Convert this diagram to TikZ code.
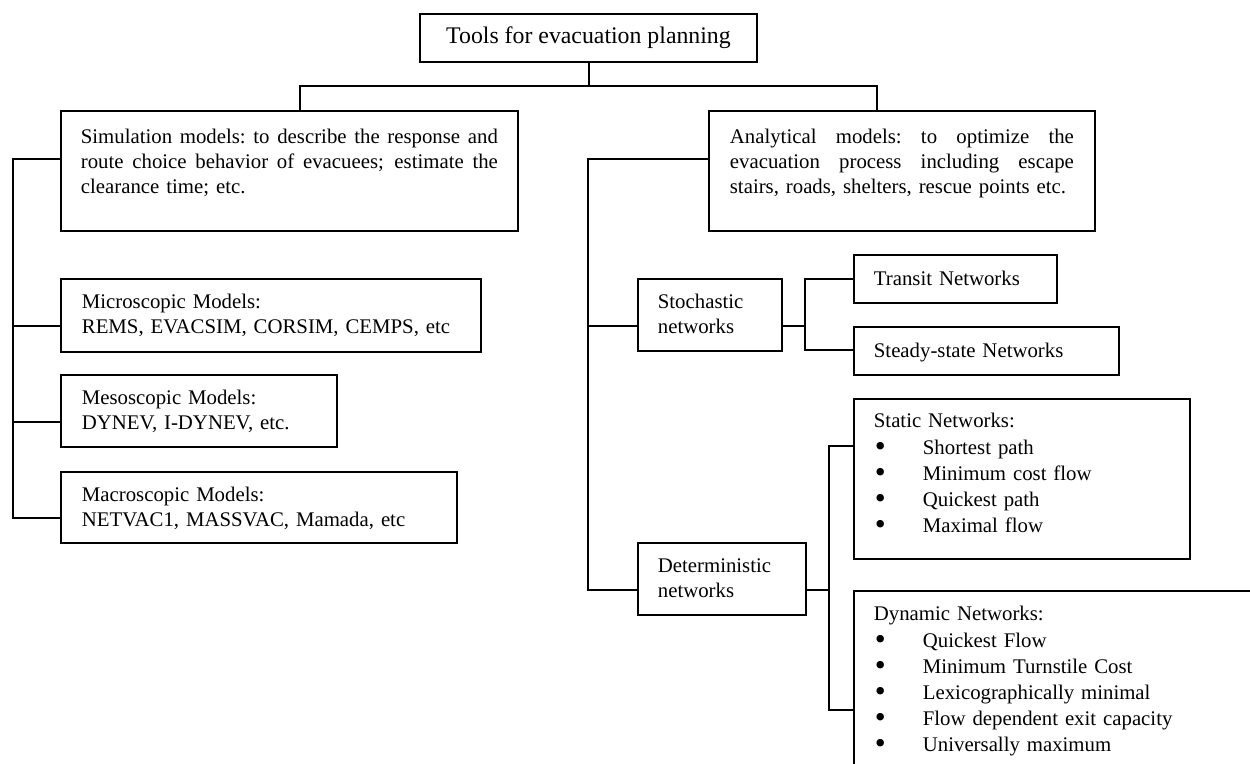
\documentclass[tikz,border=0pt]{standalone}
\usepackage{fontspec}
\usepackage{graphicx}
\setmainfont{Liberation Serif}
\usetikzlibrary{calc}
\newcommand\jline[2]{\leavevmode\hbox to #1{\spaceskip=0.25em plus 1fil\relax\xspaceskip=\spaceskip #2}}
\newcommand\bitem[1]{\makebox[24.5pt][l]{\hspace{0.5pt}\smash{\raisebox{-0.2ex}{\scalebox{1.5}{\textbullet}}}}#1}
\begin{document}
\begin{tikzpicture}[x=0.5pt,y=-0.5pt,
  line width=0.9pt,
  box/.style={draw, line width=0.9pt, anchor=north west, inner ysep=0pt, inner xsep=10pt,
    align=left, font=\fontsize{10.4}{12.5}\selectfont},
  listbox/.style={box, font=\fontsize{10.4}{13.1}\selectfont},
  titlebox/.style={draw, line width=0.9pt, inner sep=0pt, minimum width=168.5pt, minimum height=24pt,
    font=\fontsize{11.9}{14}\selectfont}]
\useasboundingbox (0,0) rectangle (1250,764);
\clip (0,0) rectangle (1250,764);

% nodes
\node[titlebox] (title) at (588.5,38) {Tools for evacuation planning};

\node[box, text width=208.5pt, text height=16.5pt, text depth=43.5pt] (sim) at (60,110)
  {\jline{208.5pt}{Simulation models: to describe the response and}\\
   \jline{208.5pt}{route choice behavior of evacuees; estimate the}\\
   clearance time; etc.};

\node[box, inner xsep=10.5pt, text width=172pt, text height=16.5pt, text depth=43.5pt] (ana) at (708,110)
  {\jline{172pt}{Analytical models: to optimize the}\\
   \jline{172pt}{evacuation process including escape}\\
   stairs, roads, shelters, rescue points etc.};

\node[box, inner xsep=10.5pt, text width=189pt, text height=15pt, text depth=21.5pt] (micro) at (60,278)
  {Microscopic Models:\\REMS, EVACSIM, CORSIM, CEMPS, etc};
\node[box, inner xsep=10.5pt, text width=117pt, text height=15pt, text depth=21pt] (meso) at (60,374)
  {Mesoscopic Models:\\DYNEV, I-DYNEV, etc.};
\node[box, inner xsep=10.5pt, text width=177pt, text height=15pt, text depth=20.5pt] (macro) at (60,471)
  {Macroscopic Models:\\NETVAC1, MASSVAC, Mamada, etc};

\node[box, text width=52pt, text height=15pt, text depth=21pt] (stoch) at (637,278)
  {Stochastic\\networks};
\node[box, text width=81.5pt, text height=15.5pt, text depth=8.5pt] (transit) at (853,254)
  {Transit Networks};
\node[box, text width=112.5pt, text height=15.5pt, text depth=8.5pt] (steady) at (853,326)
  {Steady-state Networks};

\node[listbox, text width=148pt, text height=14.5pt, text depth=65.5pt] (static) at (853,398)
  {Static Networks:\\
   \bitem{Shortest path}\\
   \bitem{Minimum cost flow}\\
   \bitem{Quickest path}\\
   \bitem{Maximal flow}};

\node[box, text width=64pt, text height=15pt, text depth=21pt] (det) at (637,542)
  {Deterministic\\networks};

\node[listbox, text width=200pt, text height=15pt, text depth=200pt] (dyn) at (853,590)
  {Dynamic Networks:\\
   \bitem{Quickest Flow}\\
   \bitem{Minimum Turnstile Cost}\\
   \bitem{Lexicographically minimal}\\
   \bitem{Flow dependent exit capacity}\\
   \bitem{Universally maximum}};

% connector coordinates
\coordinate (j0) at (589,86);
\coordinate (simtop) at ($(sim.north west)+(240,0)$);
\coordinate (anatop) at ($(ana.north west)+(169,0)$);
\coordinate (lb) at (13,0);
\coordinate (rb) at (588,0);
\coordinate (sb) at (805,0);
\coordinate (db) at (829,0);
\coordinate (simc) at ($(sim.north west)+(0,49)$);
\coordinate (micc) at ($(micro.north west)+(0,48)$);
\coordinate (mesc) at ($(meso.north west)+(0,48)$);
\coordinate (macc) at ($(macro.north west)+(0,47)$);
\coordinate (anac) at ($(ana.north west)+(0,49)$);
\coordinate (stoc) at ($(stoch.north west)+(0,48)$);
\coordinate (detc) at ($(det.north west)+(0,48)$);
\coordinate (stor) at ($(stoch.north east)+(0,48)$);
\coordinate (trc) at ($(transit.north west)+(0,25)$);
\coordinate (stc) at ($(steady.north west)+(0,24)$);
\coordinate (detr) at ($(det.north east)+(0,48)$);
\coordinate (sttc) at ($(static.north west)+(0,48)$);
\coordinate (dync) at ($(dyn.north west)+(0,120)$);

% connectors
\draw (title.south -| j0) -- (j0);
\draw (simtop) |- (j0) -| (anatop);

\draw (simc) -- (simc -| lb) -- (macc -| lb) -- (macc);
\draw (micc) -- (micc -| lb);
\draw (mesc) -- (mesc -| lb);

\draw (anac) -- (anac -| rb) -- (detc -| rb) -- (detc);
\draw (stoc) -- (stoc -| rb);

\draw (stor) -- (stor -| sb);
\draw (trc) -- (trc -| sb) -- (stc -| sb) -- (stc);

\draw (detr) -- (detr -| db);
\draw (sttc) -- (sttc -| db) -- (dync -| db) -- (dync);
\end{tikzpicture}
\end{document}
